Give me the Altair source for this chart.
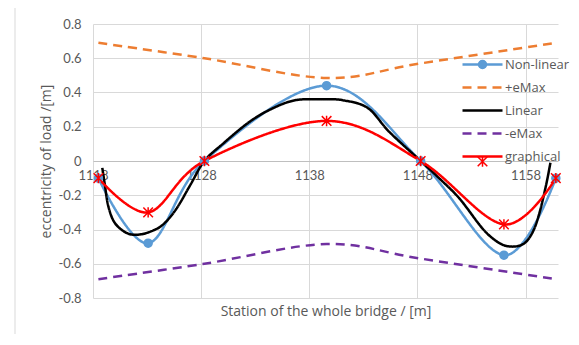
import altair as alt
import pandas as pd

FONT = "Lato"
TFONT = "Open Sans"
TXT = "#595959"

# ---- data -------------------------------------------------------------
series_names = ["Non-linear", "+eMax", "Linear", "-eMax", "graphical"]
series_colors = ["#5B9BD5", "#ED7D31", "#000000", "#7030A0", "#FF0000"]

station_pts = [1118.5, 1123.1, 1128.3, 1139.6, 1148.3, 1156.0, 1160.8]
nonlinear = [-0.10, -0.48, 0.0, 0.44, 0.0, -0.55, -0.10]
graphical = [-0.10, -0.30, 0.0, 0.234, 0.0, -0.37, -0.10]

emax_station = [1118.5, 1128.3, 1139.6, 1148.3, 1160.8]
emax_pos = [0.69, 0.60, 0.485, 0.57, 0.69]
emax_neg = [-0.69, -0.60, -0.485, -0.57, -0.69]

linear_station = [1118.86, 1119.1, 1119.4, 1120.0, 1121.1, 1122.2, 1123.4, 1124.5,
                  1125.7, 1127.0, 1128.3, 1130.0, 1132.5, 1134.7, 1136.8, 1139.3,
                  1141.1, 1143.4, 1145.4, 1148.3, 1150.0, 1151.9, 1154.1, 1155.6,
                  1156.8, 1157.9, 1158.7, 1159.3, 1159.9, 1160.3]
linear = [-0.04, -0.14, -0.26, -0.36, -0.42, -0.43, -0.41, -0.37,
          -0.28, -0.14, 0.0, 0.10, 0.23, 0.31, 0.356, 0.36,
          0.355, 0.31, 0.17, 0.0, -0.10, -0.22, -0.40, -0.48,
          -0.50, -0.48, -0.41, -0.30, -0.14, -0.01]

x_ticks = [1118, 1128, 1138, 1148, 1158]
y_ticks = [-0.8, -0.6, -0.4, -0.2, 0, 0.2, 0.4, 0.6, 0.8]

# ---- tables -----------------------------------------------------------
def frame(xs, ys, name):
    return pd.DataFrame({"station": xs, "e": ys, "series": name})

lines_df = pd.concat([
    frame(station_pts, nonlinear, "Non-linear"),
    frame(emax_station, emax_pos, "+eMax"),
    frame(linear_station, linear, "Linear"),
    frame(emax_station, emax_neg, "-eMax"),
    frame(station_pts, graphical, "graphical"),
], ignore_index=True)

# marker keys are kept distinct from the line keys so the two legends stay separate
marker_keys = [s + " " for s in series_names]
markers_df = pd.concat([
    frame(station_pts, nonlinear, "Non-linear"),
    frame(station_pts, graphical, "graphical"),
], ignore_index=True)
markers_df["mk"] = markers_df["series"] + " "

ASTERISK = "M-1.2,-1.2L1.2,1.2M-1.2,1.2L1.2,-1.2M0,-1.3L0,1.3"

x_scale = alt.Scale(domain=[1118, 1161], nice=False, zero=False)
y_scale = alt.Scale(domain=[-0.8, 0.8], nice=False)

y_axis = alt.Axis(
    values=y_ticks, grid=True,
    gridColor={"condition": {"test": "datum.value === 0", "value": "#BFBFBF"}, "value": "#D9D9D9"},
    gridWidth=1, domain=False, ticks=False, labelPadding=12,
    labelExpr="datum.value == 0 ? '0' : replace(format(datum.value, '.1f'), '\u2212', '-')",
    labelFont=FONT, labelFontSize=13, labelColor=TXT,
    title="eccentricity of load /[m]", titleFont=TFONT, titleFontSize=14,
    titleFontWeight="normal", titleColor=TXT, titlePadding=5,
)

legend_common = dict(
    title=None, orient="none", legendX=383, legendY=34, padding=0,
    symbolSize=64, labelFont=TFONT, labelFontSize=13, labelColor=TXT,
    labelOffset=16, rowPadding=9, labelLimit=200,
)
legend_a = alt.Legend(symbolType="M-5,0L5,0", symbolStrokeWidth=2.5, **legend_common)
legend_b = alt.Legend(symbolStrokeWidth=1.5, labelOpacity=0, **legend_common)

lines = alt.Chart(lines_df).mark_line(interpolate="cardinal", strokeWidth=2.5).encode(
    x=alt.X("station:Q", scale=x_scale, axis=alt.Axis(
        values=x_ticks, grid=True, gridColor="#D9D9D9", labels=False, ticks=False,
        domain=False, orient="bottom", title="Station of the whole bridge / [m]",
        titleFont=TFONT, titleFontSize=14, titleFontWeight="normal", titleColor=TXT,
        titlePadding=6)),
    y=alt.Y("e:Q", scale=y_scale, axis=y_axis),
    color=alt.Color("series:N", scale=alt.Scale(domain=series_names, range=series_colors), legend=legend_a),
    strokeDash=alt.StrokeDash("series:N", scale=alt.Scale(
        domain=series_names, range=[[1, 0], [9, 6], [1, 0], [9, 6], [1, 0]]), legend=legend_a),
)

markers = alt.Chart(markers_df).mark_point(size=64, strokeWidth=1.5, opacity=1).encode(
    x=alt.X("station:Q", scale=x_scale, axis=alt.Axis(
        values=x_ticks, grid=False, labels=True, format="d", ticks=False, domain=False,
        orient="bottom", title=None, offset=-137, labelPadding=8, labelFlush=False,
        labelFont=FONT, labelFontSize=13, labelColor=TXT)),
    y=alt.Y("e:Q", scale=y_scale, axis=y_axis),
    shape=alt.Shape("mk:N", scale=alt.Scale(domain=marker_keys,
                    range=["circle", "circle", "circle", "circle", ASTERISK]), legend=legend_b),
    fill=alt.Fill("mk:N", scale=alt.Scale(domain=marker_keys,
                  range=["#5B9BD5", "transparent", "transparent", "transparent", "transparent"]), legend=legend_b),
    stroke=alt.Stroke("mk:N", scale=alt.Scale(domain=marker_keys,
                      range=["#5B9BD5", "transparent", "transparent", "transparent", "#FF0000"]), legend=legend_b),
)

border = alt.Chart(pd.DataFrame({"k": [0]})).mark_rule(color="#D9D9D9", strokeWidth=1).encode(
    x=alt.value(-78), y=alt.value(-20), y2=alt.value(330)
)

chart = alt.layer(lines, markers, border).resolve_axis(x="independent").properties(
    width=465, height=274,
    autosize=alt.AutoSizeParams(type="none"),
    padding={"left": 85, "top": 16, "right": 12, "bottom": 36},
).configure_view(stroke=None)

chart.save("out.html", embed_options={"renderer": "svg", "actions": False})
